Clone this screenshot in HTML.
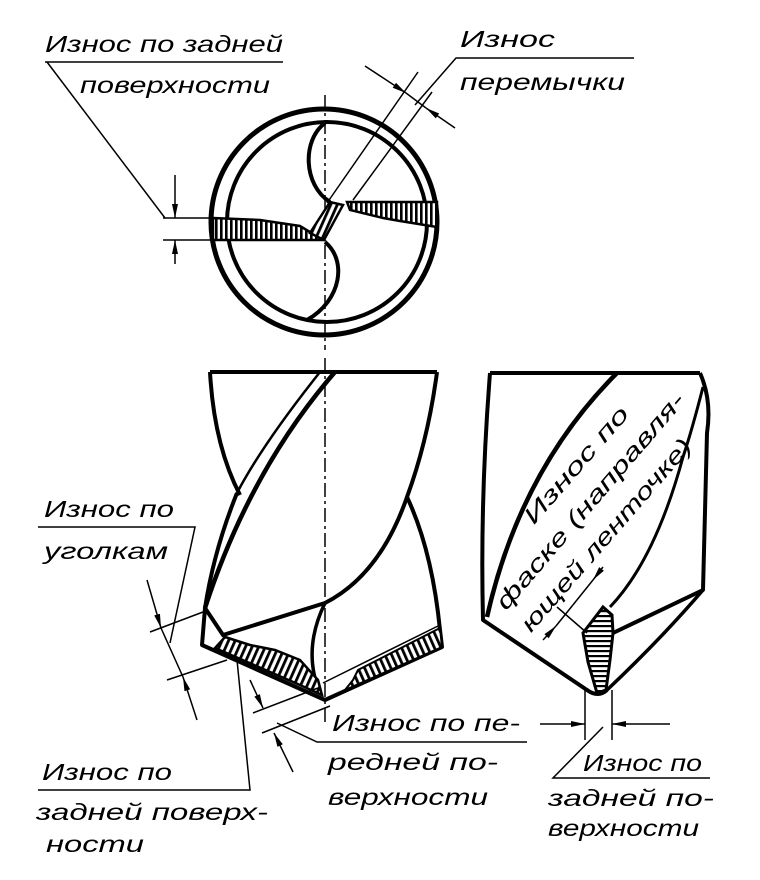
<!DOCTYPE html>
<html><head><meta charset="utf-8"><style>
html,body{margin:0;padding:0;background:#fff;}
svg{display:block;}
text{font-family:"Liberation Sans","DejaVu Sans",sans-serif;font-style:italic;font-size:23px;fill:#000;}
</style></head><body>
<svg width="760" height="880" viewBox="0 0 760 880" xmlns="http://www.w3.org/2000/svg">
<defs>
<pattern id="hv" width="5" height="5" patternUnits="userSpaceOnUse"><rect width="5" height="5" fill="#fff"/><rect x="0" y="0" width="2.6" height="5" fill="#000"/></pattern>
<pattern id="hl" width="6" height="6" patternUnits="userSpaceOnUse" patternTransform="rotate(24)"><rect width="6" height="6" fill="#fff"/><rect width="2.8" height="6" fill="#000"/></pattern>
<pattern id="hr" width="6" height="6" patternUnits="userSpaceOnUse" patternTransform="rotate(-24)"><rect width="6" height="6" fill="#fff"/><rect width="2.8" height="6" fill="#000"/></pattern>
<pattern id="hw" width="6" height="6" patternUnits="userSpaceOnUse" patternTransform="rotate(-35)"><rect width="6" height="6" fill="#fff"/><rect width="2.6" height="6" fill="#000"/></pattern>
<pattern id="hh" width="5" height="5" patternUnits="userSpaceOnUse"><rect width="5" height="5" fill="#fff"/><rect width="5" height="2.2" fill="#000"/></pattern>
<marker id="ar" viewBox="0 0 14 8" refX="14" refY="4" markerWidth="14" markerHeight="8" markerUnits="userSpaceOnUse" orient="auto"><path d="M0,1 L14,4 L0,7 Z" fill="#000"/></marker>
</defs>

<g fill="none" stroke="#000">
<!-- centerlines -->
<line x1="325" y1="95" x2="325" y2="350" stroke-width="1.5" stroke-dasharray="14,4,3,4"/>
<line x1="325" y1="358" x2="325" y2="722" stroke-width="1.5" stroke-dasharray="14,4,3,4"/>

<!-- top view -->
<circle cx="324" cy="222" r="113" stroke-width="5"/>
<circle cx="327" cy="222" r="100" stroke-width="4"/>
<polygon points="213,218 260,220 300,226 323,240 213,240" fill="url(#hv)" stroke-width="2.5"/>
<polygon points="347,202 437,202 437,227 400,221 383,218 350,210" fill="url(#hv)" stroke-width="2.5"/>
<polygon points="310,233 324,240 343,205 330,202" fill="url(#hl)" stroke-width="2.5"/>
<path d="M325,123 C302,140 303,185 330,202" stroke-width="4"/>
<path d="M325,242 C347,260 342,300 307,320" stroke-width="4"/>
<line x1="327" y1="203" x2="418" y2="72" stroke-width="1.5"/>
<line x1="353" y1="200" x2="432" y2="92" stroke-width="1.5"/>
<polyline points="415,105 456,58 634,58" stroke-width="1.5"/>
<line x1="365" y1="66" x2="406" y2="93" stroke-width="1.5" marker-end="url(#ar)"/>
<line x1="455" y1="128" x2="426" y2="108" stroke-width="1.5" marker-end="url(#ar)"/>
<line x1="406" y1="93" x2="426" y2="108" stroke-width="1.5"/>
<polyline points="45,62 283,62" stroke-width="1.5"/>
<line x1="47" y1="62" x2="165" y2="218" stroke-width="1.5"/>
<line x1="163" y1="218" x2="212" y2="218" stroke-width="1.5"/>
<line x1="163" y1="240" x2="212" y2="240" stroke-width="1.5"/>
<line x1="175" y1="175" x2="175" y2="218" stroke-width="1.5" marker-end="url(#ar)"/>
<line x1="175" y1="264" x2="175" y2="240" stroke-width="1.5" marker-end="url(#ar)"/>

<!-- middle drill -->
<path d="M210,372 L437,372" stroke-width="4"/>
<path d="M210,372 Q214,445 240,495" stroke-width="4"/>
<path d="M237,493 Q214,550 205,608 L202,645 L325,700 L442,647 L440,630 Q432,550 407,497 Q428,440 437,372" stroke-width="4" stroke-linejoin="round"/>
<path d="M335,372 Q250,470 205,608" stroke-width="4.5"/>
<path d="M320,372 Q262,445 237,493" stroke-width="2.5"/>
<path d="M407,497 Q380,575 325,603" stroke-width="4"/>
<path d="M205,608 L223,635 L325,603" stroke-width="4"/>
<path d="M325,603 Q302,650 320,693" stroke-width="3.5"/>
<polygon points="225,637 250,645 275,650 300,660 318,680 322,695 300,685 215,648" fill="url(#hl)" stroke-width="2.5"/>
<line x1="323" y1="683" x2="440" y2="625" stroke-width="1.5"/>
<polygon points="353,680 358,670 440,628 442,647 345,690" fill="url(#hr)" stroke-width="2"/>

<!-- left dims -->
<polyline points="38,527 195,527 170,643" stroke-width="1.5"/>
<line x1="150" y1="632" x2="203" y2="612" stroke-width="1.5"/>
<line x1="167" y1="680" x2="227" y2="660" stroke-width="1.5"/>
<line x1="147" y1="580" x2="161" y2="628" stroke-width="1.5" marker-end="url(#ar)"/>
<line x1="197" y1="720" x2="183" y2="677" stroke-width="1.5" marker-end="url(#ar)"/>
<line x1="161" y1="628" x2="183" y2="677" stroke-width="1.5"/>
<polyline points="38,790 250,790 237,660" stroke-width="1.5"/>
<line x1="253" y1="713" x2="318" y2="688" stroke-width="1.5"/>
<line x1="262" y1="733" x2="330" y2="706" stroke-width="1.5"/>
<line x1="250" y1="680" x2="263" y2="708" stroke-width="1.5" marker-end="url(#ar)"/>
<line x1="293" y1="772" x2="274" y2="733" stroke-width="1.5" marker-end="url(#ar)"/>
<polyline points="277,723 317,742 527,742" stroke-width="1.5"/>

<!-- right drill -->
<path d="M490,373 L700,373" stroke-width="4"/>
<path d="M490,373 Q480,500 483,620 L587,690 Q598,698 607,690" stroke-width="4" stroke-linejoin="round"/>
<path d="M700,373 Q712,400 707,433 L703,590 L613,633" stroke-width="4" stroke-linejoin="round"/>
<path d="M703,590 Q660,640 607,690" stroke-width="3.5"/>
<path d="M617,373 Q520,470 487,617" stroke-width="4.5"/>
<path d="M703,387 Q692,430 683,457 Q655,560 610,607" stroke-width="3"/>
<polygon points="603,607 612,615 613,633 610,660 606,690 597,693 588,662 583,633" fill="url(#hh)" stroke-width="3"/>
<line x1="557" y1="607" x2="587" y2="633" stroke-width="1.5"/>
<line x1="603" y1="567" x2="593" y2="580" stroke-width="1.5" marker-end="url(#ar)"/>
<line x1="543" y1="640" x2="556" y2="626" stroke-width="1.5" marker-end="url(#ar)"/>
<line x1="593" y1="580" x2="556" y2="626" stroke-width="1.5"/>
<line x1="585" y1="690" x2="585" y2="740" stroke-width="1.5"/>
<line x1="612" y1="690" x2="612" y2="740" stroke-width="1.5"/>
<line x1="540" y1="724" x2="585" y2="724" stroke-width="1.5" marker-end="url(#ar)"/>
<line x1="670" y1="724" x2="612" y2="724" stroke-width="1.5" marker-end="url(#ar)"/>
<polyline points="603,727 553,778 710,778" stroke-width="1.5"/>
</g>

<!-- text -->
<text x="45" y="52" textLength="238" lengthAdjust="spacingAndGlyphs">Износ по задней</text>
<text x="80" y="93" textLength="190" lengthAdjust="spacingAndGlyphs">поверхности</text>
<text x="460" y="47" textLength="95" lengthAdjust="spacingAndGlyphs">Износ</text>
<text x="460" y="90" textLength="165" lengthAdjust="spacingAndGlyphs">перемычки</text>
<text x="44" y="517" textLength="130" lengthAdjust="spacingAndGlyphs">Износ по</text>
<text x="44" y="559" textLength="124" lengthAdjust="spacingAndGlyphs">уголкам</text>
<text x="42" y="780" textLength="130" lengthAdjust="spacingAndGlyphs">Износ по</text>
<text x="36" y="820" textLength="232" lengthAdjust="spacingAndGlyphs">задней поверх-</text>
<text x="46" y="852" textLength="98" lengthAdjust="spacingAndGlyphs">ности</text>
<text x="332" y="731" textLength="188" lengthAdjust="spacingAndGlyphs">Износ по пе-</text>
<text x="328" y="770" textLength="170" lengthAdjust="spacingAndGlyphs">редней по-</text>
<text x="328" y="805" textLength="160" lengthAdjust="spacingAndGlyphs">верхности</text>
<text x="583" y="771" textLength="119" lengthAdjust="spacingAndGlyphs">Износ по</text>
<text x="548" y="806" textLength="166" lengthAdjust="spacingAndGlyphs">задней по-</text>
<text x="548" y="836" textLength="151" lengthAdjust="spacingAndGlyphs">верхности</text>
<text transform="translate(582,470) rotate(-49)" text-anchor="middle" textLength="147" lengthAdjust="spacingAndGlyphs">Износ по</text>
<text transform="translate(596,506) rotate(-49.5)" text-anchor="middle" textLength="277" lengthAdjust="spacingAndGlyphs">фаске (направля-</text>
<text transform="translate(612,540) rotate(-49)" text-anchor="middle" textLength="247" lengthAdjust="spacingAndGlyphs">ющей ленточке)</text>
</svg>
</body></html>
